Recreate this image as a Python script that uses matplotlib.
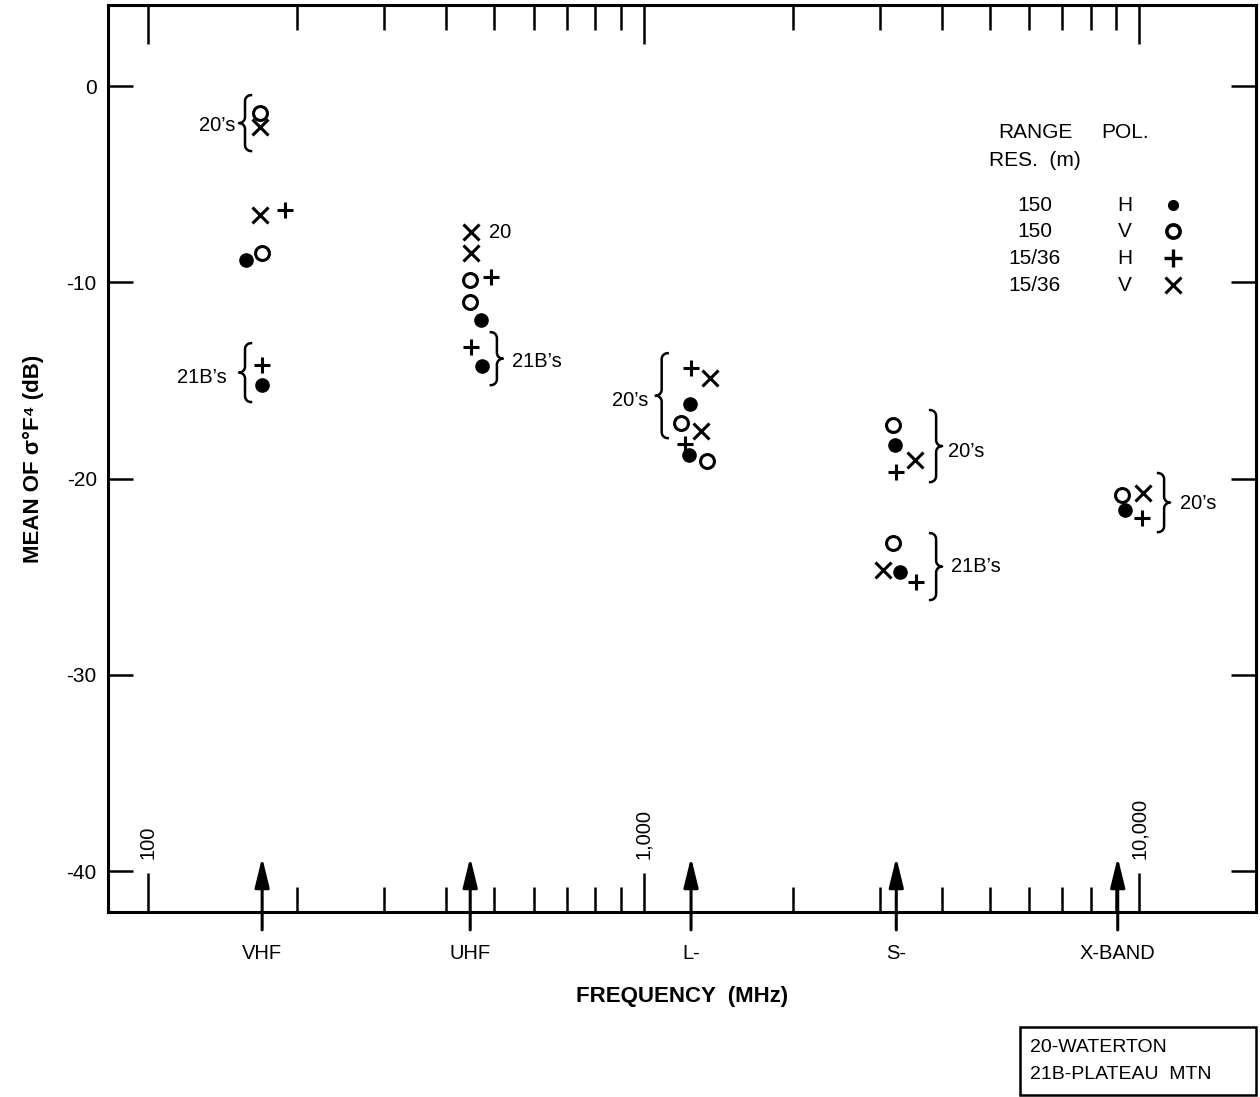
import numpy as np
import matplotlib
matplotlib.use('Agg')
import matplotlib.pyplot as plt
from matplotlib.patches import Rectangle

plt.rcParams['font.family'] = ['Liberation Sans', 'DejaVu Sans']

# band centre frequencies (MHz) and names
band_f = [170, 447, 1247, 3236, 9054]
band_names = ['VHF', 'UHF', 'L-', 'S-', 'X-BAND']

# mean of sigma0 F^4 (dB), by symbol: 150 m H, 150 m V, 15/36 m H, 15/36 m V
dot_f = [158, 170, 470, 472, 1241, 1235, 3218, 3294, 9372]
dot_db = [-8.87, -15.24, -11.92, -14.25, -16.20, -18.80, -18.29, -24.75, -21.61]
open_f = [168, 170, 447, 447, 1191, 1346, 3193, 3193, 9227]
open_db = [-1.39, -8.52, -9.89, -10.99, -17.17, -19.13, -17.27, -23.30, -20.84]
plus_f = [189, 170, 492, 448, 1247, 1210, 3233, 3548, 10125]
plus_db = [-6.32, -14.22, -9.73, -13.28, -14.37, -18.22, -19.65, -25.26, -22.03]
cross_f = [168, 168, 448, 448, 1365, 1306, 3531, 3039, 10201]
cross_db = [-2.07, -6.57, -7.45, -8.49, -14.88, -17.58, -19.06, -24.66, -20.75]

yticks = [0, -10, -20, -30, -40]
decades = [100, 1000, 10000]
decade_labels = ['100', '1,000', '10,000']

fig = plt.figure(figsize=(12.6, 10.97), dpi=100)
ax = fig.add_axes([0.0857, 0.1686, 0.9111, 0.8268])
ax.set_xscale('log')
ax.set_xlim(83.06, 17210)
ax.set_ylim(-42.09, 4.13)

for s in ax.spines.values():
    s.set_linewidth(2.2)

minor = [m * d for d in [100, 1000] for m in range(2, 10)]
ax.set_xticks(decades)
ax.set_xticks(minor, minor=True)
ax.set_xticklabels([])
ax.set_xticklabels([], minor=True)
ax.tick_params(axis='x', which='major', direction='in', length=28, width=1.8,
               top=True, bottom=True)
ax.tick_params(axis='x', which='minor', direction='in', length=18, width=1.8,
               top=True, bottom=True)
ax.set_yticks(yticks)
ax.set_yticklabels(['0', '-10', '-20', '-30', '-40'])
ax.tick_params(axis='y', direction='in', length=18, width=1.8, left=True,
               right=True, labelsize=15, pad=8)
ax.yaxis.set_minor_locator(matplotlib.ticker.NullLocator())

# decade labels
for d, lab in zip(decades, decade_labels):
    ax.text(d, -39.4, lab, rotation=90, ha='center', va='bottom', fontsize=14.5)

# band arrows and names
for f, name in zip(band_f, band_names):
    ax.annotate('', xy=(f, -39.3), xytext=(f, -43.0),
                arrowprops=dict(arrowstyle='-|>,head_length=0.9,head_width=0.22',
                                lw=2.2, color='black', shrinkA=0, shrinkB=0,
                                mutation_scale=20),
                annotation_clip=False)
    ax.text(f, -44.2, name, ha='center', va='center', fontsize=14.5)

ax.set_xlabel('FREQUENCY  (MHz)', fontsize=16, fontweight='bold', labelpad=50)
ax.set_ylabel('MEAN OF σ°F⁴ (dB)', fontsize=16, fontweight='bold', labelpad=16)

# data points
ax.plot(dot_f, dot_db, 'o', color='black', ms=9.5, ls='none', clip_on=False)
ax.plot(open_f, open_db, 'o', mfc='white', mec='black', mew=2.2, ms=10, ls='none')
ax.plot(plus_f, plus_db, '+', color='black', mew=2.2, ms=12, ls='none')
ax.plot(cross_f, cross_db, 'x', color='black', mew=2.2, ms=11.5, ls='none')


def brace(f, y0, y1, kind, r=6):
    x, ya = ax.transData.transform((f, y0))
    _, yb = ax.transData.transform((f, y1))
    top, bot = max(ya, yb), min(ya, yb)
    mid = (top + bot) / 2
    s = 1 if kind == '{' else -1
    t = np.linspace(0, np.pi / 2, 12)
    px, py = [], []
    cx, cy = x + s * r, top - r
    px += list(cx - s * r * np.sin(t)); py += list(cy + r * np.cos(t))
    cx, cy = x - s * r, mid + r
    px += list(cx + s * r * np.cos(t)); py += list(cy - r * np.sin(t))
    cx, cy = x - s * r, mid - r
    px += list(cx + s * r * np.sin(t)); py += list(cy + r * np.cos(t))
    cx, cy = x + s * r, bot + r
    px += list(cx - s * r * np.cos(t)); py += list(cy - r * np.sin(t))
    d = ax.transData.inverted().transform(np.column_stack([px, py]))
    ax.plot(d[:, 0], d[:, 1], color='black', lw=1.8, clip_on=False)


brace(157, -0.46, -3.31, '{')
brace(157, -13.10, -16.10, '{')
brace(506, -12.54, -15.24, '}')
brace(1088, -13.61, -17.94, '{')
brace(3894, -16.51, -20.18, '}')
brace(3894, -22.78, -26.19, '}')
brace(11230, -19.72, -22.73, '}')

tk = dict(fontsize=14.5, va='center')
ax.text(149.8, -1.99, '20’s', ha='right', **tk)
ax.text(144.3, -14.83, '21B’s', ha='right', **tk)
ax.text(488, -7.44, '20', ha='left', **tk)
ax.text(542, -14.06, '21B’s', ha='left', **tk)
ax.text(1021, -16.0, '20’s', ha='right', **tk)
ax.text(4113, -18.6, '20’s', ha='left', **tk)
ax.text(4169, -24.5, '21B’s', ha='left', **tk)
ax.text(12066, -21.25, '20’s', ha='left', **tk)

# key
lk = dict(fontsize=15, transform=ax.transAxes, ha='center', va='center')
ax.text(0.808, 0.859, 'RANGE', **lk)
ax.text(0.886, 0.859, 'POL.', **lk)
ax.text(0.8075, 0.829, 'RES.  (m)', **lk)
rows_y = [0.7795, 0.7508, 0.7211, 0.6913]
res = ['150', '150', '15/36', '15/36']
pol = ['H', 'V', 'H', 'V']
for yy, rr, pp in zip(rows_y, res, pol):
    ax.text(0.8075, yy, rr, **lk)
    ax.text(0.886, yy, pp, **lk)
ax.plot([0.9277], [rows_y[0]], 'o', color='black', ms=7, transform=ax.transAxes)
ax.plot([0.9277], [rows_y[1]], 'o', mfc='white', mec='black', mew=2.6, ms=9.5,
        transform=ax.transAxes)
ax.plot([0.9277], [rows_y[2]], '+', color='black', mew=2.4, ms=13,
        transform=ax.transAxes)
ax.plot([0.9277], [rows_y[3]], 'x', color='black', mew=2.2, ms=11,
        transform=ax.transAxes)

# site box
fig.patches.append(Rectangle((0.8095, 0.0018), 0.1873, 0.062, fill=False,
                             lw=1.8, edgecolor='black', transform=fig.transFigure))
fig.text(0.8175, 0.0455, '20-WATERTON', fontsize=14, va='center')
fig.text(0.8175, 0.0205, '21B-PLATEAU  MTN', fontsize=14, va='center')

fig.savefig('out.png', dpi=100)
